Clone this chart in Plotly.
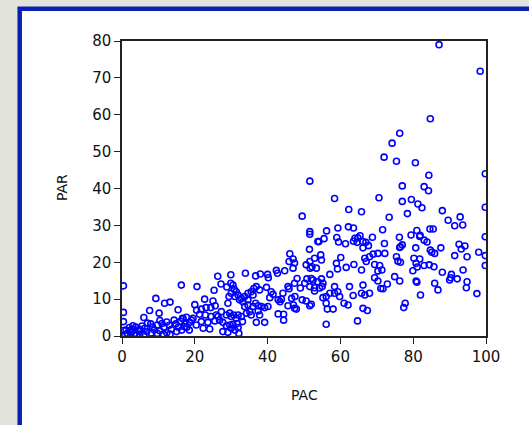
import plotly.graph_objects as go

upper = [
    (87.1,79.0),(98.4,71.8),(84.7,58.9),(76.3,55.0),(74.2,52.3),(72.0,48.5),(75.4,47.4),(80.6,47.0),
    (84.3,43.6),(51.6,42.0),(99.8,44.0),(77.0,40.7),(83.0,40.5),(84.2,39.4),(58.4,37.3),(70.6,37.5),
    (77.0,36.5),(79.5,37.0),(81.3,35.8),(82.4,34.8),(62.3,34.3),(65.8,33.7),(88.0,34.0),(99.8,34.9),
    (49.5,32.5),(73.4,32.2),(78.4,33.2),(89.6,31.4),(92.9,32.3),(91.4,29.9),(93.6,30.1),(51.6,28.3),
    (51.6,27.6),(56.2,28.5),(59.3,29.3),(62.2,29.6),(63.6,29.3),(71.6,28.8),(81.0,28.6),(84.6,29.0),
    (85.5,29.0),(99.8,26.9),(79.4,27.4),(81.9,27.3),(76.2,26.8),(68.8,26.8),(65.4,27.2),(64.0,26.5),
    (59.0,26.7),(55.5,26.4),(54.1,25.6),(59.5,25.5),(61.4,25.0),(63.6,25.7),(64.8,26.6),(64.6,25.4),
    (67.0,25.4),(67.7,24.5),(66.2,23.9),(72.1,25.1),(76.5,24.2),(77.0,24.7),(83.0,26.0),(83.8,25.5),
    (80.7,23.9),(84.7,23.3),(87.6,23.9),(92.6,24.9),(94.2,24.4),(51.5,23.5),(53.8,25.6),(66.2,25.6),
]
mid_right = [
    (51.6,20.2),(52.2,18.8),(52.9,21.1),(54.6,22.0),(54.8,20.6),(53.4,18.4),(52.5,15.2),(53.8,14.7),
    (54.8,15.5),(55.2,14.3),(55.0,13.4),(52.9,12.2),(57.1,16.7),(58.4,13.4),(58.9,19.7),(59.2,18.2),
    (60.1,21.3),(61.6,18.6),(63.7,19.4),(62.5,13.4),(59.3,12.0),(59.8,10.7),(58.4,11.6),(57.1,11.6),
    (56.1,10.7),(55.2,10.4),(52.0,8.6),(56.1,8.9),(56.4,7.3),(58.0,7.3),(61.0,8.9),(62.1,8.4),
    (63.5,11.0),(65.8,17.9),(65.8,11.6),(66.7,11.1),(68.0,11.6),(66.2,7.5),(67.4,6.9),(64.7,4.1),
    (56.1,3.2),(66.2,13.8),(66.7,21.1),(68.0,21.5),(69.0,22.2),(70.3,22.4),(72.2,22.4),(67.1,20.2),
    (69.4,19.4),(70.8,19.1),(70.3,17.6),(71.4,17.9),(69.4,15.8),(70.3,14.9),(71.1,12.9),(71.7,12.8),
    (72.9,14.1),(74.9,16.1),(75.4,21.5),(75.8,20.3),(52.0,15.6),(52.9,13.1),(54.3,13.0),
    (81.8,27.0),(76.3,24.0),(85.1,22.7),(85.9,22.4),(93.2,23.6),(91.4,21.8),(94.8,21.5),(98.0,22.7),
    (99.8,21.8),(80.2,21.1),(81.8,20.9),(80.8,19.7),(76.5,20.0),(81.1,18.7),(79.9,17.7),(83.0,19.1),
    (84.4,19.3),(85.7,18.8),(88.0,17.3),(90.5,16.7),(90.3,15.8),(90.0,15.2),(92.1,15.5),(93.7,17.9),
    (94.8,14.7),(94.6,13.1),(97.5,11.5),(99.8,19.1),(76.3,14.9),(80.8,14.9),(81.0,14.6),(85.9,14.3),
    (86.8,12.5),(82.0,11.1),(77.8,8.9),(77.4,7.7),
]
mid_left = [
    (26.3,16.2),(27.2,14.1),(29.9,16.6),(33.9,17.0),(36.7,16.3),(38.0,16.8),(40.0,16.7),(40.2,15.8),
    (42.4,17.8),(42.7,17.0),(44.7,17.7),(25.3,12.4),(29.9,14.3),(46.1,22.3),(47.0,20.9),(45.9,20.2),
    (47.4,19.8),(47.0,18.4),(50.6,19.3),(51.7,18.4),(48.1,15.6),(50.8,15.5),
    (28.8,13.3),(30.8,12.7),(31.4,12.0),(30.0,11.6),(29.4,10.7),(31.0,10.7),(31.9,11.1),(32.8,10.2),
    (33.7,10.7),(34.6,11.6),(35.5,12.0),(36.2,12.9),(36.9,13.4),(36.0,11.1),(34.6,9.8),(33.2,9.3),
    (32.3,9.8),(39.7,13.2),(41.0,12.0),(40.6,10.4),(41.5,11.3),(44.2,11.6),(43.8,10.0),(42.9,9.8),
    (45.6,13.4),(45.9,12.8),(47.4,14.3),(49.0,13.0),(50.2,14.3),(47.5,10.7),(49.5,9.8),(50.6,9.5),
    (30.5,13.8),(37.8,12.5),
    (27.3,6.6),(26.4,5.3),(26.8,4.3),(27.7,3.7),(29.1,8.9),(28.7,5.7),(29.6,6.2),(30.0,5.3),
    (30.7,5.7),(31.4,4.8),(31.9,5.7),(32.8,5.3),(33.1,3.9),(31.6,3.4),(30.5,3.2),(29.6,3.0),
    (28.7,2.8),(27.7,1.2),(29.1,1.0),(30.0,2.1),(31.0,1.6),(31.9,2.3),(32.1,0.7),(33.7,8.0),
    (34.6,8.4),(35.1,6.6),(36.0,8.0),(36.7,8.9),(37.4,8.2),(38.3,8.0),(39.2,7.7),(40.1,8.0),
    (37.8,5.7),(36.9,3.7),(39.2,3.7),(37.4,6.8),(35.5,5.7),(34.2,6.2),
    (45.6,8.2),(47.4,7.5),(47.9,7.3),(42.9,6.0),(44.4,5.9),(44.4,4.3),(51.6,8.2),(43.4,9.3),
    (47.1,8.4),(46.6,10.2),(51.6,13.4),
]
low_left = [
    (22.7,10.0),(25.0,9.5),(20.0,8.5),(21.8,7.3),(23.1,7.7),(24.4,7.7),(25.6,8.2),(21.3,5.9),
    (22.9,5.7),(24.5,5.3),(25.9,5.7),(23.6,3.7),(25.5,4.1),(21.8,3.9),(20.4,3.0),(22.3,2.1),
    (24.1,1.9),(19.5,4.8),(18.6,3.7),(17.2,2.5),
    (0.4,13.6),(0.4,6.4),(0.4,3.9),(16.3,13.8),(20.6,13.4),(9.3,10.2),(11.7,8.9),(13.2,9.2),
    (7.6,6.9),(10.2,6.2),(15.4,7.1),(6.0,5.0),(20.5,7.0),(17.7,5.1),(16.6,4.8),
    (1.1,1.6),(2.0,2.3),(2.9,1.8),(3.8,2.4),(1.5,0.7),(2.5,1.1),(3.5,0.7),(4.5,1.4),(0.8,0.3),
    (4.9,0.5),(6.3,2.1),(6.8,1.2),(7.9,3.3),(8.4,2.4),(8.9,1.6),(9.7,3.0),(10.4,4.2),(11.0,3.4),
    (11.5,2.4),(12.3,3.8),(13.0,2.9),(13.6,1.8),(14.3,4.3),(14.8,3.3),(15.5,2.4),(16.1,4.0),
    (16.8,4.7),(17.3,3.4),(17.8,2.4),(18.5,1.6),(19.1,4.3),(15.0,1.2),(12.3,0.9),(10.4,1.4),
    (9.7,0.7),(11.4,0.5),(13.2,0.5),(16.4,1.6),(4.9,1.8),
    (0.5,1.5),(1.5,0.3),(3.0,2.8),(5.5,2.7),(7.0,3.5),(2.2,1.5),(4.0,0.2),(6.0,0.3),(8.0,0.8),
]

points = upper + mid_right + mid_left + low_left
pac = [p[0] for p in points]
par = [p[1] for p in points]

x_ticks = [0, 20, 40, 60, 80, 100]
y_ticks = [0, 10, 20, 30, 40, 50, 60, 70, 80]

W, H = 529, 425
L, R, T, B = 122, 43, 41, 89
pw, ph = W - L - R, H - T - B

def px2x(p):
    return (p - L) / pw

def py2y(p):
    return (H - B - p) / ph

fig = go.Figure()
fig.add_trace(go.Scatter(
    x=pac, y=par, mode="markers",
    marker=dict(symbol="circle-open", size=6, color="#0000ff",
                line=dict(width=1.6, color="#0000ff")),
    showlegend=False, hoverinfo="x+y",
))

blue = "#0a1fb4"
fig.add_shape(type="rect", xref="paper", yref="paper", layer="below",
              x0=px2x(19.7), x1=px2x(W + 20), y0=py2y(8.7), y1=py2y(H + 20),
              fillcolor="white", line=dict(color=blue, width=4.5))

tickfont = dict(family="DejaVu Sans", size=15, color="#111111")
fig.update_xaxes(range=[0, 100], tickvals=x_ticks, ticks="outside", ticklen=6, tickwidth=1.4,
                 tickcolor="#222", showline=True, linecolor="#222", linewidth=1.5, mirror=True,
                 showgrid=False, zeroline=False, tickfont=tickfont)
fig.update_yaxes(range=[0, 80], tickvals=y_ticks, ticks="outside", ticklen=6, tickwidth=1.4,
                 tickcolor="#222", showline=True, linecolor="#222", linewidth=1.5, mirror=True,
                 showgrid=False, zeroline=False, tickfont=tickfont)

titlefont = dict(family="DejaVu Sans", size=14, color="#111111")
fig.add_annotation(text="PAC", xref="paper", yref="paper", x=px2x(304), y=py2y(395),
                   showarrow=False, font=titlefont, xanchor="center", yanchor="middle")
fig.add_annotation(text="PAR", xref="paper", yref="paper", x=px2x(62), y=py2y(188),
                   showarrow=False, font=titlefont, textangle=-90, xanchor="center", yanchor="middle")

fig.update_layout(width=W, height=H, margin=dict(l=L, r=R, t=T, b=B),
                  paper_bgcolor="#e3e3dd", plot_bgcolor="white")

fig.write_html("out.html")
